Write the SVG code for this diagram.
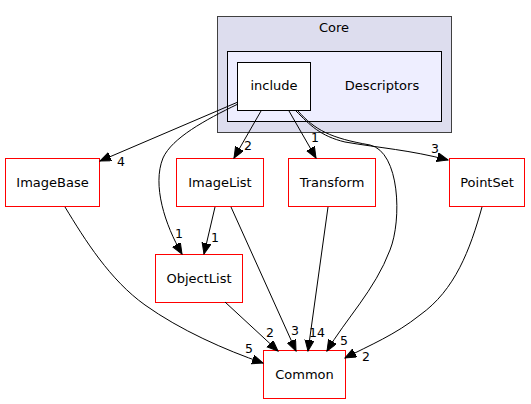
<svg xmlns="http://www.w3.org/2000/svg" width="531" height="404" viewBox="0 0 531 404">
<style>
text{font-family:"DejaVu Sans",sans-serif;font-size:13px;fill:#000}
text.l{font-size:12.5px}
.n{text-anchor:middle}
.red{fill:#fff;stroke:#ff0000;stroke-width:1}
.e{fill:none;stroke:#000;stroke-width:1;marker-end:url(#ah)}
</style>
<defs>
<marker id="ah" markerUnits="userSpaceOnUse" markerWidth="12" markerHeight="10" refX="11" refY="4.5" orient="auto">
<polygon points="0,0 11,4.5 0,9" fill="#000" stroke="#000"/>
</marker>
</defs>
<g id="cluster_core">
<rect x="217.5" y="16.5" width="234" height="116" fill="#ddddee" stroke="#404040"/>
<text class="n" x="334" y="32">Core</text>
</g>
<g id="cluster_descriptors">
<rect x="227.5" y="51.5" width="214" height="70" fill="#eeeeff" stroke="#000"/>
<text class="n" x="382" y="90">Descriptors</text>
</g>
<g id="include">
<rect x="237.5" y="62.5" width="73" height="48" fill="#fff" stroke="#000"/>
<text class="n" x="274" y="90">include</text>
</g>
<g id="ImageBase">
<rect class="red" x="5.5" y="158.5" width="94" height="48"/>
<text class="n" x="52.5" y="187">ImageBase</text>
</g>
<g id="ImageList">
<rect class="red" x="176.5" y="158.5" width="87" height="48"/>
<text class="n" x="220" y="187">ImageList</text>
</g>
<g id="Transform">
<rect class="red" x="288.5" y="158.5" width="87" height="48"/>
<text class="n" x="332" y="187">Transform</text>
</g>
<g id="PointSet">
<rect class="red" x="449.5" y="158.5" width="75" height="48"/>
<text class="n" x="487" y="187">PointSet</text>
</g>
<g id="ObjectList">
<rect class="red" x="155.5" y="254.5" width="87" height="48"/>
<text class="n" x="199" y="283">ObjectList</text>
</g>
<g id="Common">
<rect class="red" x="263.5" y="350.5" width="82" height="48"/>
<text class="n" x="304.5" y="379">Common</text>
</g>
<g id="edges">
<path class="e" d="M238,102 L100,161"/>
<text class="l" x="117" y="166">4</text>
<path class="e" d="M238,104 C205,120 172,138 163,158 C152,185 165,225 182,254"/>
<text class="l" x="175" y="238">1</text>
<path class="e" d="M261,111 L234,158"/>
<text class="l" x="244" y="150">2</text>
<path class="e" d="M289,111 L316,158"/>
<text class="l" x="311" y="142">1</text>
<path class="e" d="M296,111 C310,125 320,136 345,142 C380,148 410,150 448,160"/>
<text class="l" x="431" y="153">3</text>
<path class="e" d="M298,111 C315,130 330,138 370,145 C400,152 402,220 390,250 C375,290 345,320 327,351"/>
<text class="l" x="340" y="345">5</text>
<path class="e" d="M65,207 C85,240 110,280 145,305 C180,330 225,350 263,363"/>
<text class="l" x="245" y="353">5</text>
<path class="e" d="M215,207 L204,254"/>
<text class="l" x="211" y="242">1</text>
<path class="e" d="M231,207 L296,351"/>
<text class="l" x="291" y="335">3</text>
<path class="e" d="M225,302 L278,351"/>
<text class="l" x="266" y="337">2</text>
<path class="e" d="M328,207 L308,351"/>
<text class="l" x="309" y="337">14</text>
<path class="e" d="M482,207 C470,250 455,290 420,315 C395,335 370,345 345,358"/>
<text class="l" x="362" y="361">2</text>
</g>
</svg>
